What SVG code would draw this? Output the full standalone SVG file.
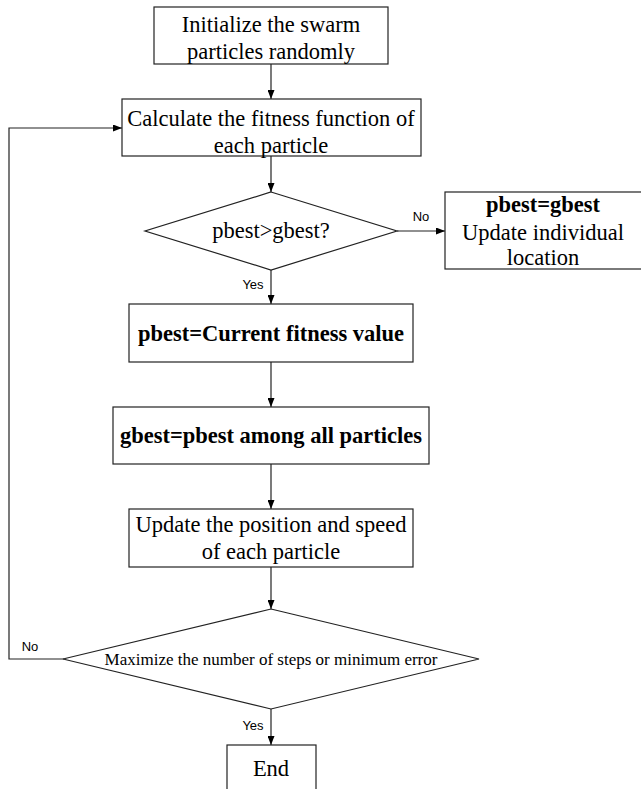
<svg xmlns="http://www.w3.org/2000/svg" width="641" height="789" viewBox="0 0 641 789">
<style>
.box{fill:#fff;stroke:#222;stroke-width:1.2}
.t{font-family:"Liberation Serif","Times New Roman",serif;font-size:22.5px;fill:#000;text-anchor:middle}
.b{font-weight:bold}
.s{font-family:"Liberation Sans",Arial,sans-serif;font-size:13px;fill:#000;text-anchor:middle}
.c{fill:none;stroke:#222;stroke-width:1.2}
</style>
<defs>
<marker id="ah" markerWidth="9" markerHeight="7" refX="9" refY="3.5" orient="auto" markerUnits="userSpaceOnUse">
<path d="M0,0 L9,3.5 L0,7 Z" fill="#000"/>
</marker>
</defs>
<rect width="641" height="789" fill="#fff"/>
<g id="connectors">
<line class="c" x1="271" y1="64" x2="271" y2="99" marker-end="url(#ah)"/>
<line class="c" x1="271" y1="156" x2="271" y2="192" marker-end="url(#ah)"/>
<line class="c" x1="397" y1="231" x2="445" y2="231" marker-end="url(#ah)"/>
<line class="c" x1="271" y1="270" x2="271" y2="304" marker-end="url(#ah)"/>
<line class="c" x1="271" y1="362" x2="271" y2="407" marker-end="url(#ah)"/>
<line class="c" x1="271" y1="464" x2="271" y2="509" marker-end="url(#ah)"/>
<line class="c" x1="271" y1="567" x2="271" y2="609" marker-end="url(#ah)"/>
<line class="c" x1="271" y1="709" x2="271" y2="745" marker-end="url(#ah)"/>
<polyline class="c" points="64,659 9,659 9,128 122,128" marker-end="url(#ah)"/>
<text class="s" x="421" y="221">No</text>
<text class="s" x="253" y="289">Yes</text>
<text class="s" x="30" y="651">No</text>
<text class="s" x="253" y="730">Yes</text>
</g>
<g id="init">
<rect class="box" x="154" y="7" width="234" height="57"/>
<text class="t" x="271" y="32">Initialize the swarm</text>
<text class="t" x="271" y="59">particles randomly</text>
</g>
<g id="calc">
<rect class="box" x="122" y="99" width="299" height="57"/>
<text class="t" x="271" y="126">Calculate the fitness function of</text>
<text class="t" x="271" y="153">each particle</text>
</g>
<g id="cond1">
<polygon class="box" points="271,192 397,231 271,270 145,231"/>
<text class="t" x="271" y="238">pbest&gt;gbest?</text>
</g>
<g id="update-ind">
<rect class="box" x="445" y="192" width="200" height="77"/>
<text class="t b" x="543" y="212">pbest=gbest</text>
<text class="t" x="543" y="240">Update individual</text>
<text class="t" x="543" y="265">location</text>
</g>
<g id="pbest">
<rect class="box" x="129" y="304" width="284" height="58"/>
<text class="t b" x="271" y="341">pbest=Current fitness value</text>
</g>
<g id="gbest">
<rect class="box" x="113" y="407" width="316" height="57"/>
<text class="t b" x="271" y="443">gbest=pbest among all particles</text>
</g>
<g id="update-pos">
<rect class="box" x="129" y="509" width="284" height="58"/>
<text class="t" x="271" y="532">Update the position and speed</text>
<text class="t" x="271" y="559">of each particle</text>
</g>
<g id="cond2">
<polygon class="box" points="271,609 479,659 271,709 63,659"/>
<text class="t" x="271" y="665" style="font-size:17px">Maximize the number of steps or minimum error</text>
</g>
<g id="end">
<rect class="box" x="227" y="745" width="89" height="60"/>
<text class="t" x="271" y="776">End</text>
</g>
</svg>
